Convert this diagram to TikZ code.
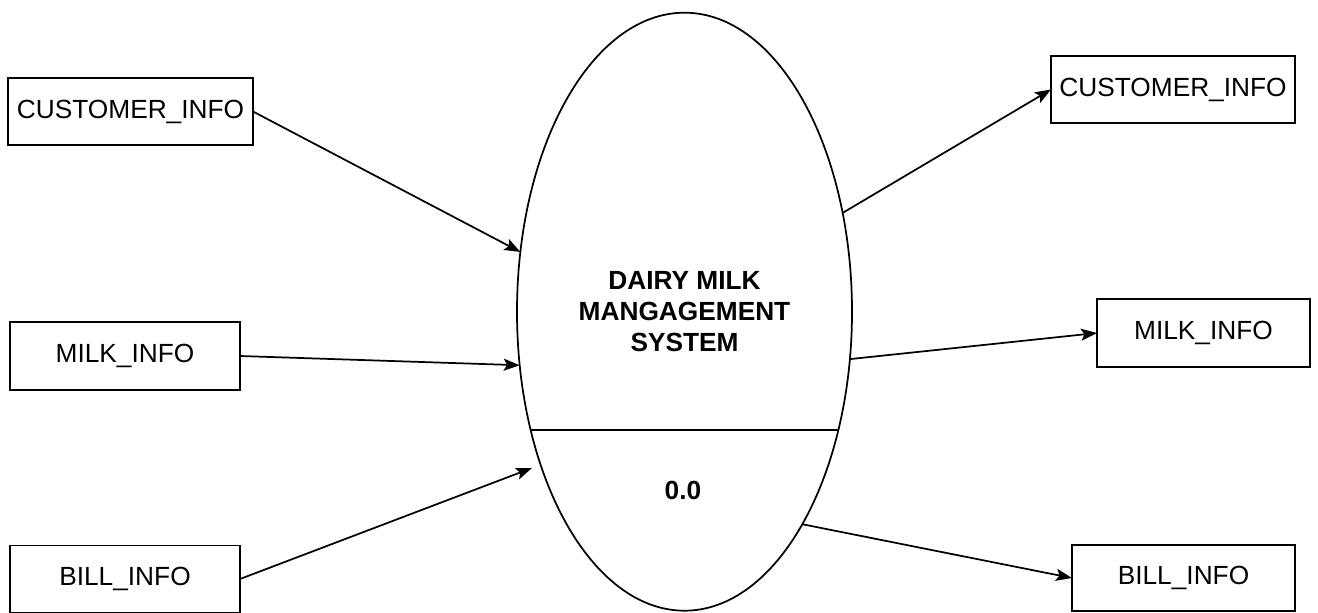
\documentclass[tikz,border=0pt]{standalone}
\usepackage{fontspec}
\setmainfont{Liberation Sans}
\usetikzlibrary{shapes.geometric,arrows.meta}

\tikzset{
  dfdbox/.style={draw,line width=1.3pt,inner sep=0pt,outer sep=0pt},
  flow/.style={line width=1.3pt,-{Stealth[length=12pt,width=9pt,inset=2.5pt]}}
}

\begin{document}
\begin{tikzpicture}[x=0.75pt,y=0.75pt,yscale=-1,xscale=1,
  font=\fontsize{19.7}{23.3}\selectfont]
\useasboundingbox (0,0) rectangle (1318,613);

%Shape: Ellipse [id:sys]
\node [draw,ellipse,line width=1.3pt,inner sep=0pt,outer sep=0pt,
  minimum width=251.25pt,minimum height=448.5pt,align=center,font=\fontsize{19.7}{23.3}\selectfont\bfseries]
  (sys) at (684.5,311.7) {DAIRY MILK\\MANGAGEMENT\\SYSTEM};
%Straight Lines [id:sep]
\draw [line width=1.3pt] (sys.center) ++(-153.8,118.3) -- ++(307.6,0) ;
% Text Node
\node [inner sep=0.75pt,font=\fontsize{19.7}{23.3}\selectfont\bfseries] (num) at (683,490) {0.0};

%Shape: Rectangle [id:custin]
\node [dfdbox,minimum width=183.75pt,minimum height=50.25pt] (custin) at (130.5,111.5) {CUSTOMER\_INFO};
%Shape: Rectangle [id:milkin]
\node [dfdbox,minimum width=172.5pt,minimum height=51pt] (milkin) at (125,356) {MILK\_INFO};
%Shape: Rectangle [id:billin]
\node [dfdbox,minimum width=172.5pt,minimum height=50.25pt] (billin) at (125,579) {BILL\_INFO};

%Shape: Rectangle [id:custout]
\node [dfdbox,minimum width=183pt,minimum height=50.25pt] (custout) at (1173,89.5) {CUSTOMER\_INFO};
%Shape: Rectangle [id:milkout]
\node [dfdbox,minimum width=159.75pt,minimum height=51pt] (milkout) at (1203.5,333) {MILK\_INFO};
%Shape: Rectangle [id:billout]
\node [dfdbox,minimum width=167.25pt,minimum height=49.5pt] (billout) at (1183.5,578) {BILL\_INFO};

\coordinate (billend) at (532,468);

%Straight Lines [id:flows in]
\draw [flow] (custin.east) -- (sys.160) ;
\draw [flow] (milkin.east) -- (sys.198) ;
\draw [flow] (billin.east) -- (billend) ;
%Straight Lines [id:flows out]
\draw [flow] (sys.32) -- (custout.west) ;
\draw [flow] (sys.344) -- (milkout.west) ;
\draw [flow] (sys.299.5) -- (billout.west) ;

\end{tikzpicture}
\end{document}
